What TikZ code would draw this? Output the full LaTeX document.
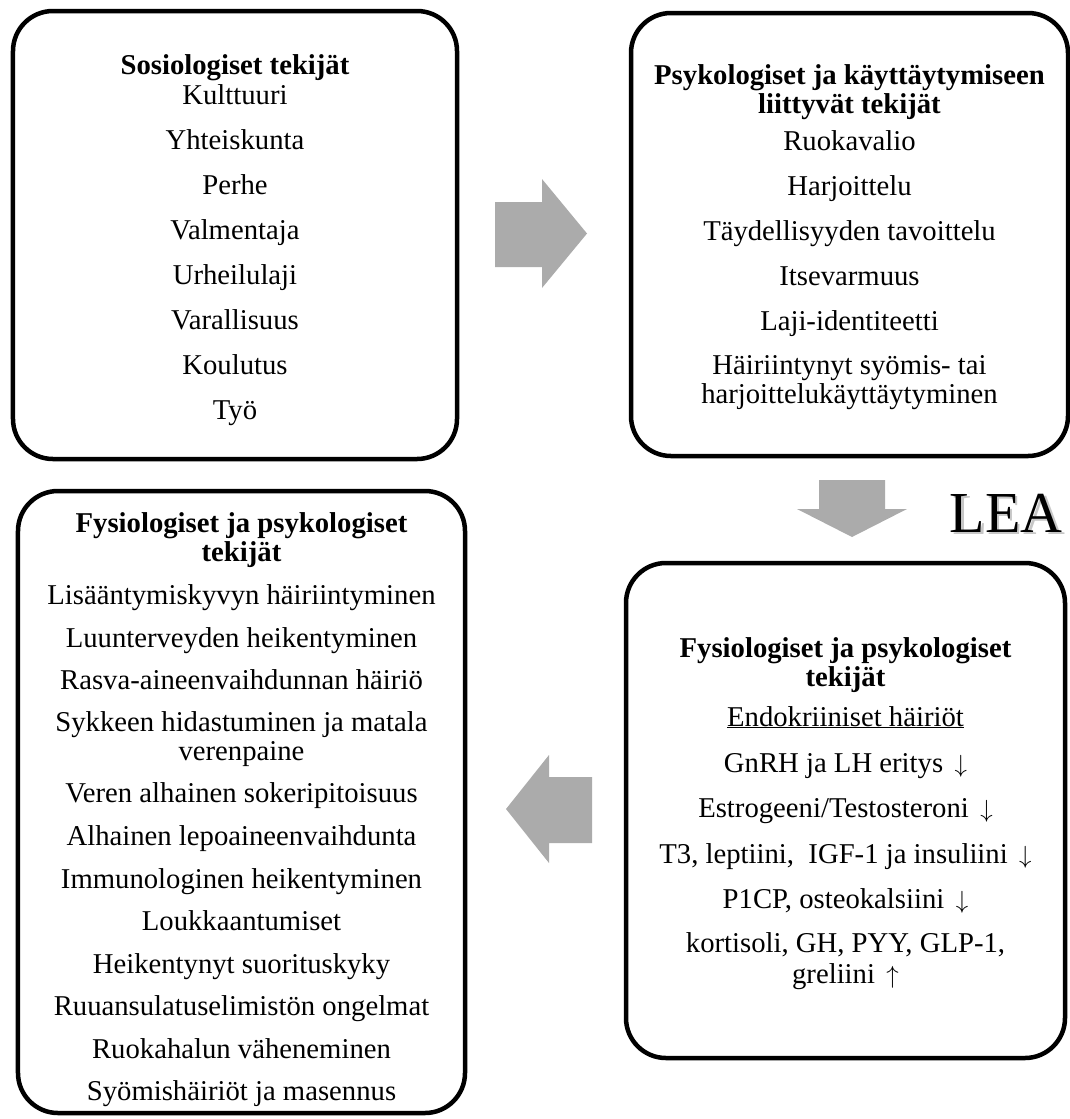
\documentclass[tikz,border=0pt]{standalone}
\usepackage{fontspec}
\setmainfont{Liberation Serif}
\definecolor{arrowgray}{RGB}{171,171,171}
\newcommand{\dnarr}{\hspace{0.4em}$\downarrow$}
\newcommand{\uparr}{\hspace{0.4em}$\uparrow$}
\newcommand{\shadowtext}[1]{\rlap{\hspace{2.5bp}\raisebox{-2.5bp}{\textcolor{black!22}{#1}}}#1}
\begin{document}
\begin{tikzpicture}[x=1bp,y=-1bp,
  box/.style={draw=black, line width=4.5bp, rounded corners=40bp, inner sep=0pt, outer sep=0pt},
  txt/.style={font=\fontsize{28.7bp}{34bp}\selectfont, anchor=base, inner sep=0pt},
  ttl/.style={font=\fontsize{28.7bp}{34bp}\selectfont\bfseries, anchor=base, inner sep=0pt},
  blockarrow/.style={fill=arrowgray, draw=none},
  lea/.style={font=\fontsize{58bp}{60bp}\selectfont, anchor=base, inner sep=0pt}]
\useasboundingbox (0,0) rectangle (1070,1119);
% boxes
\node[box, minimum width=444bp, minimum height=448bp] (B1) at (235,235) {};
\node[box, minimum width=437bp, minimum height=443bp] (B2) at (849.5,234.5) {};
\node[box, minimum width=447bp, minimum height=622bp] (B3) at (241.5,802) {};
\node[box, minimum width=439bp, minimum height=495bp] (B4) at (845.5,810.5) {};
% block arrows
\fill[blockarrow] (495,202) -- (542,202) -- (542,179) -- (587,233.5) -- (542,288) -- (542,267) -- (495,267) -- cycle;
\fill[blockarrow] (819,480) -- (885,480) -- (885,509) -- (907,509) -- (852,537) -- (797,509) -- (819,509) -- cycle;
\fill[blockarrow] (592,777) -- (549,777) -- (549,755) -- (506,809) -- (549,863) -- (549,843) -- (592,843) -- cycle;
% LEA with soft shadow
\node[lea] (lea) at (1006,532) {\shadowtext{LEA}};
% box 1
\node[ttl] (a0) at (235,74) {Sosiologiset tekijät};
\node[txt] (a1) at (235,104) {Kulttuuri};
\node[txt] (a2) at (235,149) {Yhteiskunta};
\node[txt] (a3) at (235,194) {Perhe};
\node[txt] (a4) at (235,239) {Valmentaja};
\node[txt] (a5) at (235,284) {Urheilulaji};
\node[txt] (a6) at (235,329) {Varallisuus};
\node[txt] (a7) at (235,374) {Koulutus};
\node[txt] (a8) at (235,419) {Työ};
% box 2
\node[ttl] (b0) at (849.5,84) {Psykologiset ja käyttäytymiseen};
\node[ttl] (b1) at (849.5,113) {liittyvät tekijät};
\node[txt] (b2) at (849.5,150) {Ruokavalio};
\node[txt] (b3) at (849.5,195) {Harjoittelu};
\node[txt] (b4) at (849.5,240) {Täydellisyyden tavoittelu};
\node[txt] (b5) at (849.5,285) {Itsevarmuus};
\node[txt] (b6) at (849.5,330) {Laji-identiteetti};
\node[txt] (b7) at (849.5,374) {Häiriintynyt syömis- tai};
\node[txt] (b8) at (849.5,403) {harjoittelukäyttäytyminen};
% box 3
\node[ttl] (c0) at (241.5,532) {Fysiologiset ja psykologiset};
\node[ttl] (c1) at (241.5,561) {tekijät};
\node[txt] (c2) at (241.5,604) {Lisääntymiskyvyn häiriintyminen};
\node[txt] (c3) at (241.5,647) {Luunterveyden heikentyminen};
\node[txt] (c4) at (241.5,689) {Rasva-aineenvaihdunnan häiriö};
\node[txt] (c5) at (241.5,731) {Sykkeen hidastuminen ja matala};
\node[txt] (c6) at (241.5,760) {verenpaine};
\node[txt] (c7) at (241.5,802) {Veren alhainen sokeripitoisuus};
\node[txt] (c8) at (241.5,845) {Alhainen lepoaineenvaihdunta};
\node[txt] (c9) at (241.5,888) {Immunologinen heikentyminen};
\node[txt] (c10) at (241.5,930) {Loukkaantumiset};
\node[txt] (c11) at (241.5,973) {Heikentynyt suorituskyky};
\node[txt] (c12) at (241.5,1015) {Ruuansulatuselimistön ongelmat};
\node[txt] (c13) at (241.5,1058) {Ruokahalun väheneminen};
\node[txt] (c14) at (241.5,1100) {Syömishäiriöt ja masennus};
% box 4
\node[ttl] (d0) at (845.5,657) {Fysiologiset ja psykologiset};
\node[ttl] (d1) at (845.5,686) {tekijät};
\node[txt] (d2) at (845.5,726) {\underline{Endokriiniset häiriöt}};
\node[txt] (d3) at (845.5,772) {GnRH ja LH eritys\dnarr};
\node[txt] (d4) at (845.5,817) {Estrogeeni/Testosteroni\dnarr};
\node[txt] (d5) at (845.5,863) {T3, leptiini,\ \ IGF-1 ja insuliini\dnarr};
\node[txt] (d6) at (845.5,908) {P1CP, osteokalsiini\dnarr};
\node[txt] (d7) at (845.5,952) {kortisoli, GH, PYY, GLP-1,};
\node[txt] (d8) at (845.5,983) {greliini\uparr};
\end{tikzpicture}
\end{document}
